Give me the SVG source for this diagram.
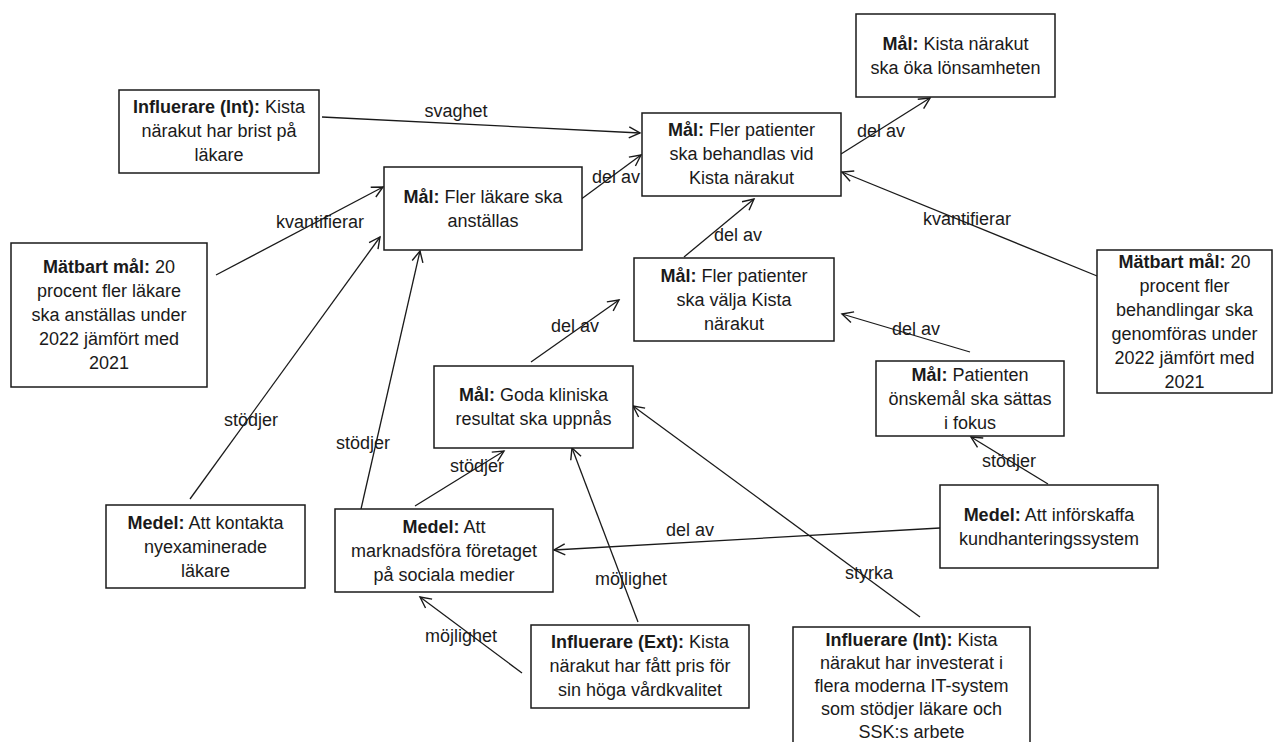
<svg xmlns="http://www.w3.org/2000/svg" width="1284" height="742" viewBox="0 0 1284 742">
<defs>
<marker id="arr" markerUnits="userSpaceOnUse" markerWidth="14" markerHeight="14" viewBox="0 0 14 14" refX="12" refY="7" orient="auto">
<path d="M1,1.5 L12,7 L1,12.5" fill="none" stroke="#1a1a1a" stroke-width="1.4"/>
</marker>
</defs>
<style>
text{font-family:"Liberation Sans",Arial,sans-serif;font-size:18px;fill:#1a1a1a;text-anchor:middle}
.b{font-weight:bold}
.n rect{fill:#fff;stroke:#1a1a1a;stroke-width:1.5}
.c line{stroke:#1a1a1a;stroke-width:1.3;marker-end:url(#arr)}
</style>
<rect x="0" y="0" width="1284" height="742" fill="#fff"/>
<g class="c" id="connectors">
<line x1="322" y1="117" x2="640" y2="133"/>
<line x1="580" y1="200" x2="641" y2="155"/>
<line x1="216" y1="275" x2="383" y2="187"/>
<line x1="190" y1="499" x2="380" y2="237"/>
<line x1="361" y1="509" x2="420" y2="251"/>
<line x1="415" y1="506" x2="504" y2="451"/>
<line x1="531" y1="362" x2="619" y2="300"/>
<line x1="684" y1="257" x2="754" y2="199"/>
<line x1="841" y1="154" x2="930" y2="98"/>
<line x1="1102" y1="278" x2="842" y2="172"/>
<line x1="970" y1="352" x2="842" y2="314"/>
<line x1="1048" y1="484" x2="971" y2="437"/>
<line x1="940" y1="528" x2="554" y2="550"/>
<line x1="920" y1="617" x2="633" y2="406"/>
<line x1="638" y1="622" x2="572" y2="448"/>
<line x1="522" y1="673" x2="420" y2="597"/>
<text x="456" y="117">svaghet</text>
<text x="616" y="183">del av</text>
<text x="320" y="228">kvantifierar</text>
<text x="251" y="426">stödjer</text>
<text x="363" y="449">stödjer</text>
<text x="477" y="472">stödjer</text>
<text x="575" y="332">del av</text>
<text x="738" y="241">del av</text>
<text x="881" y="137">del av</text>
<text x="967" y="225">kvantifierar</text>
<text x="916" y="335">del av</text>
<text x="1009" y="467">stödjer</text>
<text x="690" y="536">del av</text>
<text x="869" y="579">styrka</text>
<text x="631" y="585">möjlighet</text>
<text x="461" y="642">möjlighet</text>
</g>
<g class="n" id="n-infl-brist">
<rect x="119" y="90" width="200" height="83"/>
<text x="219" y="113"><tspan class="b">Influerare (Int):</tspan> Kista</text>
<text x="219" y="137">närakut har brist på</text>
<text x="219" y="161">läkare</text>
</g>
<g class="n" id="n-lonsamhet">
<rect x="856" y="14" width="199" height="83"/>
<text x="955.5" y="50"><tspan class="b">Mål:</tspan> Kista närakut</text>
<text x="955.5" y="74">ska öka lönsamheten</text>
</g>
<g class="n" id="n-behandlas">
<rect x="642" y="113" width="199" height="83"/>
<text x="741.5" y="136"><tspan class="b">Mål:</tspan> Fler patienter</text>
<text x="741.5" y="160">ska behandlas vid</text>
<text x="741.5" y="184">Kista närakut</text>
</g>
<g class="n" id="n-lakare">
<rect x="384" y="167" width="198" height="83"/>
<text x="483" y="203"><tspan class="b">Mål:</tspan> Fler läkare ska</text>
<text x="483" y="227">anställas</text>
</g>
<g class="n" id="n-matbart-left">
<rect x="11" y="243" width="196" height="144"/>
<text x="109" y="273"><tspan class="b">Mätbart mål:</tspan> 20</text>
<text x="109" y="297">procent fler läkare</text>
<text x="109" y="321">ska anställas under</text>
<text x="109" y="345">2022 jämfört med</text>
<text x="109" y="369">2021</text>
</g>
<g class="n" id="n-valja">
<rect x="634" y="258" width="200" height="83"/>
<text x="734" y="282"><tspan class="b">Mål:</tspan> Fler patienter</text>
<text x="734" y="306">ska välja Kista</text>
<text x="734" y="330">närakut</text>
</g>
<g class="n" id="n-matbart-right">
<rect x="1097" y="250" width="175" height="143"/>
<text x="1184.5" y="268"><tspan class="b">Mätbart mål:</tspan> 20</text>
<text x="1184.5" y="292">procent fler</text>
<text x="1184.5" y="316">behandlingar ska</text>
<text x="1184.5" y="340">genomföras under</text>
<text x="1184.5" y="364">2022 jämfört med</text>
<text x="1184.5" y="388">2021</text>
</g>
<g class="n" id="n-onskemal">
<rect x="876" y="361" width="188" height="75"/>
<text x="970" y="381"><tspan class="b">Mål:</tspan> Patienten</text>
<text x="970" y="405">önskemål ska sättas</text>
<text x="970" y="429">i fokus</text>
</g>
<g class="n" id="n-kliniska">
<rect x="434" y="366" width="199" height="82"/>
<text x="533.5" y="401"><tspan class="b">Mål:</tspan> Goda kliniska</text>
<text x="533.5" y="425">resultat ska uppnås</text>
</g>
<g class="n" id="n-kontakta">
<rect x="106" y="505" width="199" height="83"/>
<text x="205.5" y="529"><tspan class="b">Medel:</tspan> Att kontakta</text>
<text x="205.5" y="553">nyexaminerade</text>
<text x="205.5" y="577">läkare</text>
</g>
<g class="n" id="n-marknadsfora">
<rect x="335" y="509" width="218" height="83"/>
<text x="444" y="533"><tspan class="b">Medel:</tspan> Att</text>
<text x="444" y="557">marknadsföra företaget</text>
<text x="444" y="581">på sociala medier</text>
</g>
<g class="n" id="n-inforskaffa">
<rect x="940" y="485" width="218" height="83"/>
<text x="1049" y="521"><tspan class="b">Medel:</tspan> Att införskaffa</text>
<text x="1049" y="545">kundhanteringssystem</text>
</g>
<g class="n" id="n-infl-ext">
<rect x="531" y="625" width="218" height="83"/>
<text x="640" y="648"><tspan class="b">Influerare (Ext):</tspan> Kista</text>
<text x="640" y="672">närakut har fått pris för</text>
<text x="640" y="696">sin höga vårdkvalitet</text>
</g>
<g class="n" id="n-infl-it">
<rect x="793" y="627" width="237" height="140"/>
<text x="911.5" y="646"><tspan class="b">Influerare (Int):</tspan> Kista</text>
<text x="911.5" y="669">närakut har investerat i</text>
<text x="911.5" y="692">flera moderna IT-system</text>
<text x="911.5" y="715">som stödjer läkare och</text>
<text x="911.5" y="738">SSK:s arbete</text>
</g>
</svg>
